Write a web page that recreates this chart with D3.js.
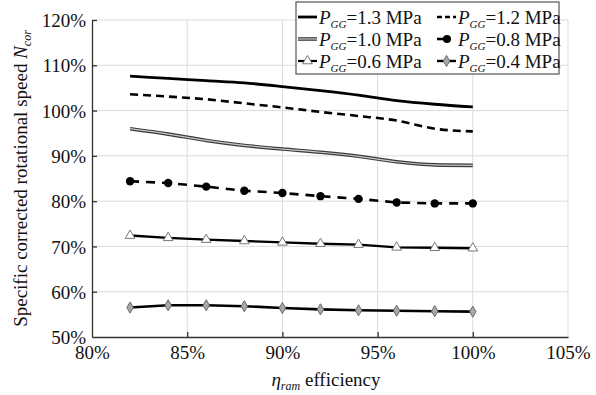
<!DOCTYPE html>
<html><head><meta charset="utf-8">
<script src="https://cdn.jsdelivr.net/npm/d3@7"></script>
<style>body{margin:0;background:#fff}svg{display:block}</style>
</head><body><svg id="c" width="596" height="395"></svg>
<script>
const FONT = '"Liberation Serif"';
const xValues = [82, 84, 86, 88, 90, 92, 94, 96, 98, 100];
const p13 = [107.6, 107.1, 106.6, 106.1, 105.3, 104.4, 103.4, 102.2, 101.4, 100.8];
const p12 = [103.6, 103.1, 102.5, 101.6, 100.7, 99.7, 98.8, 97.8, 96.0, 95.4];
const p10 = [96.0, 94.8, 93.4, 92.3, 91.5, 90.8, 89.9, 88.7, 88.0, 87.9];
const p08 = [84.4, 84.0, 83.2, 82.3, 81.8, 81.1, 80.5, 79.7, 79.5, 79.5];
const p06 = [72.4, 71.9, 71.5, 71.2, 70.9, 70.6, 70.4, 69.8, 69.7, 69.6];
const p04 = [56.5, 57.0, 57.0, 56.8, 56.4, 56.1, 55.9, 55.8, 55.7, 55.6];
const seriesLabels = ["1.3 MPa", "1.2 MPa", "1.0 MPa", "0.8 MPa", "0.6 MPa", "0.4 MPa"];
const xTicks = [80, 85, 90, 95, 100, 105];
const yTicks = [50, 60, 70, 80, 90, 100, 110, 120];

const svg = d3.select("#c");
const L = 92, R = 568, T = 20, B = 337;
const x = d3.scaleLinear().domain([80, 105]).range([L, R]);
const y = d3.scaleLinear().domain([50, 120]).range([B, T]);

svg.append("g").selectAll("line").data(xTicks.slice(1)).join("line")
  .attr("x1", d => x(d)).attr("x2", d => x(d)).attr("y1", T).attr("y2", B)
  .attr("stroke", "#dcdcdc").attr("stroke-width", 1);
svg.append("g").selectAll("line").data(yTicks.slice(1)).join("line")
  .attr("x1", L).attr("x2", R).attr("y1", d => y(d)).attr("y2", d => y(d))
  .attr("stroke", "#dcdcdc").attr("stroke-width", 1);

const xAxis = svg.append("g").attr("transform", `translate(0,${B})`)
  .call(d3.axisBottom(x).tickValues(xTicks).tickFormat(d => d + "%").tickSizeInner(-5).tickSizeOuter(0).tickPadding(8));
const yAxis = svg.append("g").attr("transform", `translate(${L},0)`)
  .call(d3.axisLeft(y).tickValues(yTicks).tickFormat(d => d + "%").tickSizeInner(-5).tickSizeOuter(0).tickPadding(6));
[xAxis, yAxis].forEach(g => {
  g.attr("font-family", null).attr("font-size", null);
  g.select(".domain").attr("stroke", "#333").attr("stroke-width", 1.3);
  g.selectAll(".tick line").attr("stroke", "#333").attr("stroke-width", 1.3);
  g.selectAll(".tick text").attr("fill", "#111").style("font-family", FONT).style("font-size", "19px");
});
yAxis.selectAll(".tick text").attr("dy", "0.35em");
xAxis.selectAll(".tick text").attr("dy", "0.75em");
xAxis.selectAll(".tick line").filter(d => d === 80 || d === 105).remove();
yAxis.selectAll(".tick line").filter(d => d === 50).remove();

const smooth = d3.line().x((d, i) => x(xValues[i])).y(d => y(d)).curve(d3.curveMonotoneX);
const straight = d3.line().x((d, i) => x(xValues[i])).y(d => y(d));

svg.append("path").attr("d", smooth(p13)).attr("fill", "none").attr("stroke", "#000").attr("stroke-width", 2.8);
svg.append("path").attr("d", smooth(p12)).attr("fill", "none").attr("stroke", "#000").attr("stroke-width", 2.6).attr("stroke-dasharray", "8,5");
svg.append("path").attr("d", smooth(p10)).attr("fill", "none").attr("stroke", "#3a3a3a").attr("stroke-width", 3.6);
svg.append("path").attr("d", smooth(p10)).attr("fill", "none").attr("stroke", "#c8c8c8").attr("stroke-width", 1.2);
svg.append("path").attr("d", straight(p08)).attr("fill", "none").attr("stroke", "#000").attr("stroke-width", 2.6).attr("stroke-dasharray", "9,7");
svg.append("g").selectAll("circle").data(p08).join("circle")
  .attr("cx", (d, i) => x(xValues[i])).attr("cy", d => y(d)).attr("r", 4.2).attr("fill", "#000");
svg.append("path").attr("d", straight(p06)).attr("fill", "none").attr("stroke", "#000").attr("stroke-width", 2.4);
const tri = d3.symbol().type(d3.symbolTriangle).size(40);
svg.append("g").selectAll("path").data(p06).join("path")
  .attr("d", tri).attr("transform", (d, i) => `translate(${x(xValues[i])},${y(d)})`)
  .attr("fill", "#fff").attr("stroke", "#777").attr("stroke-width", 1);
svg.append("path").attr("d", straight(p04)).attr("fill", "none").attr("stroke", "#000").attr("stroke-width", 2.6);
const dia = d3.symbol().type(d3.symbolDiamond).size(36);
svg.append("g").selectAll("path").data(p04).join("path")
  .attr("d", dia).attr("transform", (d, i) => `translate(${x(xValues[i])},${y(d)})`)
  .attr("fill", "#a8a8a8").attr("stroke", "#6a6a6a").attr("stroke-width", 1);

function txt(sel) { return sel.style("font-family", FONT).style("font-size", "19px").attr("fill", "#111"); }

const yt = txt(svg.append("text")).attr("transform", `translate(27,${(T + B) / 2}) rotate(-90)`)
  .attr("text-anchor", "middle");
yt.append("tspan").text("Specific corrected rotational speed ");
yt.append("tspan").style("font-style", "italic").text("N");
yt.append("tspan").style("font-style", "italic").style("font-size", "12px").attr("dy", 4).text("cor");

const xt = txt(svg.append("text")).attr("x", 326).attr("y", 386).attr("text-anchor", "middle");
xt.append("tspan").style("font-style", "italic").text("η");
xt.append("tspan").style("font-style", "italic").style("font-size", "12px").attr("dy", 4).text("ram");
xt.append("tspan").attr("dy", -4).text(" efficiency");

const lg = svg.append("g");
lg.append("rect").attr("x", 296).attr("y", 2).attr("width", 263).attr("height", 72)
  .attr("fill", "#fff").attr("stroke", "#555").attr("stroke-width", 1.2);
const cols = [298, 437];
const rows = [17, 39, 61];
seriesLabels.forEach((lab, k) => {
  const cx = cols[k % 2], cy = rows[Math.floor(k / 2)];
  const g = lg.append("g");
  const sx1 = cx, sx2 = cx + 19;
  if (k === 0) g.append("line").attr("x1", sx1).attr("x2", sx2).attr("y1", cy).attr("y2", cy).attr("stroke", "#000").attr("stroke-width", 2.8);
  if (k === 1) g.append("line").attr("x1", sx1).attr("x2", sx2).attr("y1", cy).attr("y2", cy).attr("stroke", "#000").attr("stroke-width", 2.6).attr("stroke-dasharray", "5,3");
  if (k === 2) {
    g.append("line").attr("x1", sx1).attr("x2", sx2).attr("y1", cy).attr("y2", cy).attr("stroke", "#3a3a3a").attr("stroke-width", 3.6);
    g.append("line").attr("x1", sx1).attr("x2", sx2).attr("y1", cy).attr("y2", cy).attr("stroke", "#c8c8c8").attr("stroke-width", 1.2);
  }
  if (k === 3) {
    g.append("line").attr("x1", sx1).attr("x2", sx1 + 8).attr("y1", cy).attr("y2", cy).attr("stroke", "#000").attr("stroke-width", 2.6);
    g.append("circle").attr("cx", sx1 + 10).attr("cy", cy).attr("r", 4).attr("fill", "#000");
  }
  if (k === 4) {
    g.append("line").attr("x1", sx1).attr("x2", sx2).attr("y1", cy).attr("y2", cy).attr("stroke", "#000").attr("stroke-width", 2.2);
    g.append("path").attr("d", tri).attr("transform", `translate(${cx + 9.5},${cy})`).attr("fill", "#fff").attr("stroke", "#777");
  }
  if (k === 5) {
    g.append("line").attr("x1", sx1).attr("x2", sx2).attr("y1", cy).attr("y2", cy).attr("stroke", "#000").attr("stroke-width", 2.4);
    g.append("path").attr("d", dia).attr("transform", `translate(${cx + 9.5},${cy})`).attr("fill", "#a8a8a8").attr("stroke", "#6a6a6a");
  }
  const t = txt(g.append("text")).attr("x", cx + 21).attr("y", cy + 6.5);
  t.append("tspan").style("font-style", "italic").text("P");
  t.append("tspan").style("font-style", "italic").style("font-size", "11px").attr("dy", 4).text("GG");
  t.append("tspan").attr("dy", -4).text("=" + lab);
});
</script></body></html>
